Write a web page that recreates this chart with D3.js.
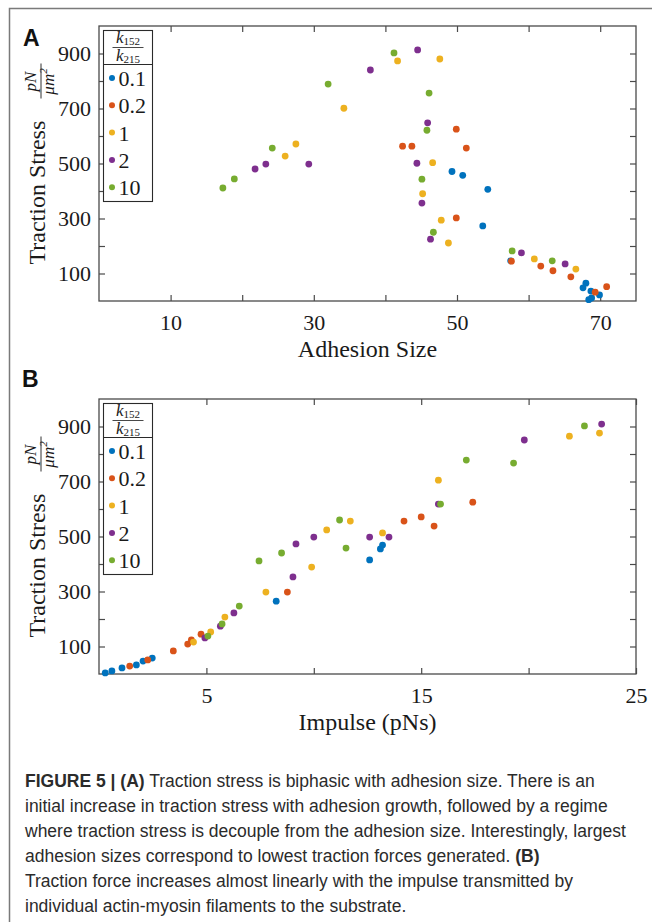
<!DOCTYPE html>
<html>
<head>
<meta charset="utf-8">
<script src="https://cdn.jsdelivr.net/npm/d3@7"></script>
<style>
  body { margin: 0; background: #fff; }
  svg { display: block; }
</style>
</head>
<body>
<div id="chart"></div>
<script>
// series (k152/k215 ratio) and MATLAB default colours
const seriesNames = ["0.1", "0.2", "1", "2", "10"];
const seriesColors = ["#0072BD", "#D95319", "#EDB120", "#7E2F8E", "#77AC30"];

// Panel A: [adhesion size, traction stress]
const adhesion01 = [[49.3, 471], [50.8, 457], [54.3, 406], [53.6, 273], [57.5, 146], [68.0, 65], [67.6, 48], [68.7, 36], [69.9, 22], [68.4, 5], [68.8, 11]];
const adhesion02 = [[49.9, 625], [42.4, 563], [43.7, 563], [51.3, 556], [49.9, 302], [57.6, 145], [61.7, 127], [63.4, 110], [65.9, 88], [69.3, 32], [70.9, 52]];
const adhesion1 = [[41.7, 873], [47.6, 880], [34.2, 701], [27.5, 571], [26.0, 527], [46.6, 503], [45.2, 390], [47.8, 294], [48.8, 211], [60.8, 153], [66.6, 116]];
const adhesion2 = [[44.5, 913], [37.9, 840], [45.9, 648], [44.4, 501], [29.3, 498], [23.3, 498], [21.8, 480], [45.1, 356], [46.3, 225], [59.0, 175], [65.1, 135]];
const adhesion10 = [[41.2, 902], [32.0, 789], [46.1, 756], [45.8, 621], [24.2, 556], [18.9, 444], [17.3, 411], [45.1, 443], [46.7, 250], [57.7, 182], [63.3, 146]];

// Panel B: [impulse, traction stress]
const impulse01 = [[0.29, 4], [0.6, 11], [1.07, 22], [1.74, 33], [2.05, 47], [2.48, 58], [8.25, 265], [12.6, 415], [13.1, 455], [13.2, 469]];
const impulse02 = [[2.27, 51], [1.43, 29], [3.46, 84], [4.13, 109], [4.3, 124], [4.75, 145], [8.77, 298], [14.2, 556], [15.0, 571], [15.6, 538], [17.4, 625]];
const impulse1 = [[4.4, 116], [5.2, 153], [5.86, 207], [7.77, 298], [9.9, 389], [10.6, 524], [11.7, 556], [13.2, 513], [15.8, 705], [21.9, 865], [23.3, 876]];
const impulse2 = [[4.93, 131], [5.65, 174], [6.28, 222], [9.03, 353], [9.17, 473], [10.0, 498], [12.6, 498], [13.5, 498], [15.8, 618], [19.8, 851], [23.4, 909]];
const impulse10 = [[5.07, 138], [5.73, 182], [6.53, 247], [7.45, 411], [8.5, 440], [11.2, 560], [11.5, 458], [15.9, 618], [17.1, 778], [19.3, 767], [22.6, 902]];

// ticks
const yTicks = [100, 200, 300, 400, 500, 600, 700, 800, 900];
const yTickLabels = [100, 300, 500, 700, 900];
const xTicksA = [10, 20, 30, 40, 50, 60, 70];
const xTickLabelsA = [10, 30, 50, 70];
const xTicksB = [5, 10, 15, 20, 25];
const xTickLabelsB = [5, 15, 25];

const captionLines = [
  [["FIGURE 5 | (A)", true], [" Traction stress is biphasic with adhesion size. There is an", false]],
  [["initial increase in traction stress with adhesion growth, followed by a regime", false]],
  [["where traction stress is decouple from the adhesion size. Interestingly, largest", false]],
  [["adhesion sizes correspond to lowest traction forces generated. ", false], ["(B)", true]],
  [["Traction force increases almost linearly with the impulse transmitted by", false]],
  [["individual actin-myosin filaments to the substrate.", false]]
];

const W = 652, H = 922;
const serif = "'Liberation Serif', 'Times New Roman', serif";
const axisColor = "#4a4a4a";

const svg = d3.select("#chart").append("svg")
  .attr("width", W).attr("height", H)
  .style("background", "#fff");

// outer frame
svg.append("rect")
  .attr("x", 9.5).attr("y", 8.5)
  .attr("width", W + 20).attr("height", H + 20)
  .attr("fill", "none").attr("stroke", "#7a7a7a").attr("stroke-width", 1.5);

function drawPanel(cfg) {
  const x = d3.scaleLinear().domain(cfg.xDomain).range([99, 636]);
  const y = d3.scaleLinear().domain([0, 1000]).range([cfg.top + 275, cfg.top]);
  const g = svg.append("g");
  const bottom = cfg.top + 275;

  const styleAxis = (sel) => {
    sel.select(".domain").remove();
    sel.selectAll(".tick line").attr("stroke", axisColor).attr("stroke-width", 1.2);
    sel.selectAll("text").attr("font-family", serif).attr("font-size", 22).attr("fill", "#1a1a1a");
  };

  g.append("g").attr("transform", `translate(0,${bottom})`)
    .call(d3.axisBottom(x).tickValues(cfg.xTicks).tickSize(-6).tickPadding(13)
      .tickFormat(d => cfg.xLabels.includes(d) ? d : ""))
    .call(styleAxis);
  g.append("g").attr("transform", `translate(0,${cfg.top})`)
    .call(d3.axisTop(x).tickValues(cfg.xTicks).tickSize(-6).tickFormat(""))
    .call(styleAxis);
  g.append("g").attr("transform", `translate(99,0)`)
    .call(d3.axisLeft(y).tickValues(yTicks).tickSize(-6).tickPadding(8)
      .tickFormat(d => yTickLabels.includes(d) ? d : ""))
    .call(styleAxis);
  g.append("g").attr("transform", `translate(636,0)`)
    .call(d3.axisRight(y).tickValues(yTicks).tickSize(-6).tickFormat(""))
    .call(styleAxis);

  // box
  g.append("rect")
    .attr("x", 99).attr("y", cfg.top)
    .attr("width", 537).attr("height", 275)
    .attr("fill", "none").attr("stroke", axisColor).attr("stroke-width", 1.3);

  // points
  cfg.series.forEach((pts, i) => {
    g.append("g").selectAll("circle").data(pts).enter().append("circle")
      .attr("cx", d => x(d[0]))
      .attr("cy", d => y(d[1]))
      .attr("r", 3.4)
      .attr("fill", seriesColors[i]);
  });

  // x label
  g.append("text")
    .attr("x", 367.5).attr("y", bottom + 56)
    .attr("text-anchor", "middle")
    .attr("font-family", serif).attr("font-size", 24).attr("fill", "#1a1a1a")
    .text(cfg.xLabel);

  // y label (rotated) with pN / μm² fraction
  const yl = g.append("g").attr("transform", `translate(45,${cfg.top + 137.5}) rotate(-90)`);
  yl.append("text")
    .attr("x", -101).attr("y", 0)
    .attr("font-family", serif).attr("font-size", 24).attr("fill", "#1a1a1a")
    .text("Traction Stress");
  yl.append("text")
    .attr("x", 82).attr("y", -9).attr("text-anchor", "middle")
    .attr("font-family", serif).attr("font-style", "italic").attr("font-size", 17).attr("fill", "#1a1a1a")
    .text("pN");
  yl.append("line")
    .attr("x1", 65).attr("x2", 100).attr("y1", -4).attr("y2", -4)
    .attr("stroke", "#1a1a1a").attr("stroke-width", 0.9);
  const den = yl.append("text")
    .attr("x", 82).attr("y", 9).attr("text-anchor", "middle")
    .attr("font-family", serif).attr("font-style", "italic").attr("font-size", 17).attr("fill", "#1a1a1a");
  den.append("tspan").text("μm");
  den.append("tspan").attr("dy", -7).attr("font-size", 11).text("2");

  // panel letter
  g.append("text")
    .attr("x", cfg.letterX).attr("y", cfg.top + cfg.letterDy)
    .attr("font-family", "'Liberation Sans', Arial, sans-serif")
    .attr("font-weight", "bold").attr("font-size", 23).attr("fill", "#111")
    .text(cfg.letter);

  // legend
  const lg = g.append("g").attr("transform", `translate(103.5,${cfg.top + 4.5})`);
  lg.append("rect").attr("width", 49).attr("height", 171)
    .attr("fill", "#fff").attr("stroke", "#2a2a2a").attr("stroke-width", 1.1);
  lg.append("line").attr("x1", 0).attr("x2", 49).attr("y1", 34).attr("y2", 34)
    .attr("stroke", "#2a2a2a").attr("stroke-width", 1.1);
  lg.append("line").attr("x1", 9).attr("x2", 40).attr("y1", 17).attr("y2", 17)
    .attr("stroke", "#1a1a1a").attr("stroke-width", 0.8);
  [["152", 12], ["215", 30]].forEach(([sub, yy]) => {
    const t = lg.append("text").attr("x", 24.5).attr("y", yy).attr("text-anchor", "middle")
      .attr("font-family", serif).attr("fill", "#1a1a1a");
    t.append("tspan").attr("font-style", "italic").attr("font-size", 17).text("k");
    t.append("tspan").attr("font-size", 11).attr("dy", 2).text(sub);
  });
  seriesNames.forEach((name, i) => {
    const yy = 47.5 + i * 27.3;
    lg.append("circle").attr("cx", 8.5).attr("cy", yy).attr("r", 3)
      .attr("fill", seriesColors[i]);
    lg.append("text").attr("x", 15).attr("y", yy + 8)
      .attr("font-family", serif).attr("font-size", 22).attr("fill", "#1a1a1a")
      .text(name);
  });
}

drawPanel({
  top: 26, xDomain: [0, 75], xTicks: xTicksA, xLabels: xTickLabelsA,
  xLabel: "Adhesion Size", letter: "A", letterX: 23, letterDy: 20,
  series: [adhesion01, adhesion02, adhesion1, adhesion2, adhesion10]
});
drawPanel({
  top: 399, xDomain: [0, 25], xTicks: xTicksB, xLabels: xTickLabelsB,
  xLabel: "Impulse (pNs)", letter: "B", letterX: 22, letterDy: -12,
  series: [impulse01, impulse02, impulse1, impulse2, impulse10]
});

// caption
const cap = svg.append("g")
  .attr("font-family", "'Liberation Sans', Arial, sans-serif")
  .attr("fill", "#2b2b2b");
const capTexts = captionLines.map((line, i) => {
  const t = cap.append("text")
    .attr("x", 25).attr("y", 787 + i * 25)
    .attr("font-size", 16);
  line.forEach(([txt, bold]) => {
    t.append("tspan")
      .attr("font-weight", bold ? "bold" : "normal")
      .style("white-space", "pre")
      .text(txt);
  });
  return t;
});
// fit the widest line to the caption column width (25 -> 626)
const widest = d3.max(capTexts, t => t.node().getComputedTextLength());
const capSize = 16 * 601 / widest;
capTexts.forEach(t => t.attr("font-size", capSize));
</script>
</body>
</html>
